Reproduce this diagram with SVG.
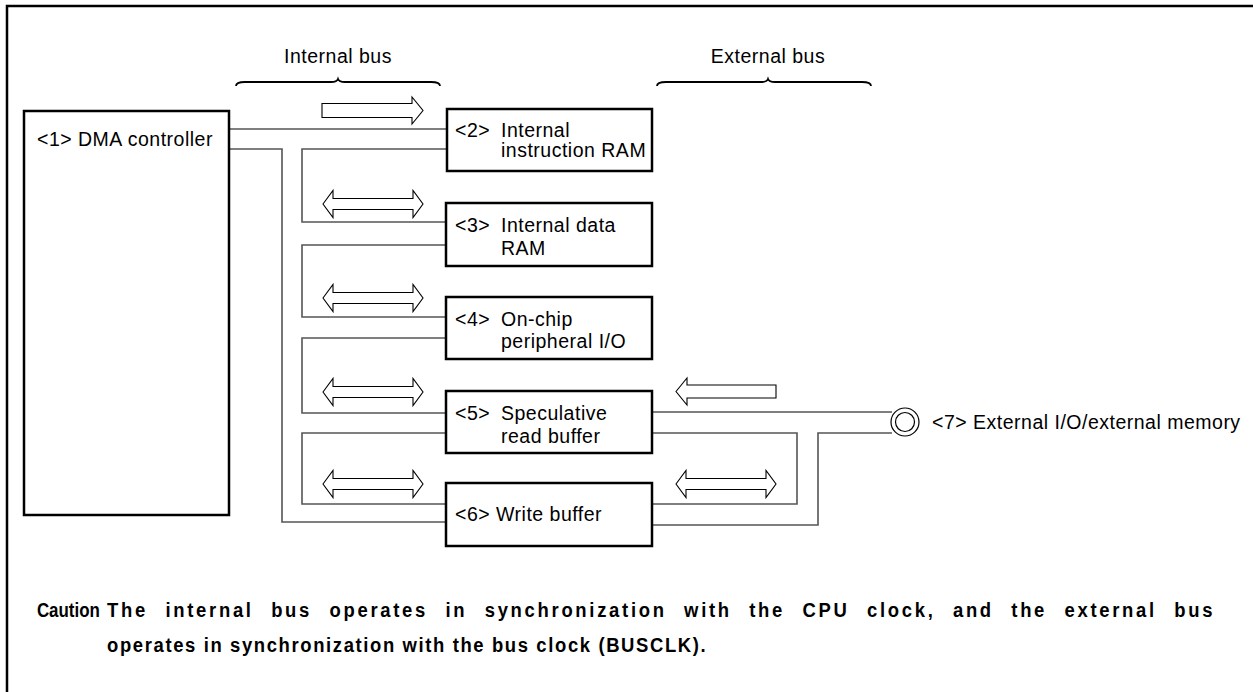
<svg xmlns="http://www.w3.org/2000/svg" width="1253" height="692" viewBox="0 0 1253 692">
<style>
.box{fill:#fff;stroke:#000;stroke-width:2.5}
.t{font-family:"Liberation Sans",Arial,sans-serif;font-size:19.5px;letter-spacing:0.5px;fill:#000}
.c{font-family:"Liberation Sans",Arial,sans-serif;font-size:20.5px;font-weight:bold;letter-spacing:1.8px;fill:#000}
.c0{letter-spacing:0px}
.c1{letter-spacing:3px;word-spacing:10.7px}
.ln{fill:none;stroke:#555;stroke-width:1.6}
.ar{fill:#fff;stroke:#000;stroke-width:1.1;stroke-linejoin:miter}
.br{fill:none;stroke:#000;stroke-width:1.8}
</style>
<defs>
<polygon id="dbl" class="ar" points="0,0 10,-13.5 10,-5.5 90,-5.5 90,-13.5 100,0 90,13.5 90,5.5 10,5.5 10,13.5"/>
</defs>
<rect width="1253" height="692" fill="#fff"/>
<path d="M7,692 V6 H1253" fill="none" stroke="#000" stroke-width="2.5"/>

<g id="labels">
<path class="br" d="M236,86 Q236,82 245,82 H331 Q337,82 338,79 Q339,82 345,82 H431 Q440,82 440,86"/>
<text class="t" x="338" y="63" text-anchor="middle">Internal bus</text>
<path class="br" d="M657,86 Q657,82 666,82 H761 Q767,82 768,79 Q769,82 775,82 H862 Q871,82 871,86"/>
<text class="t" x="768" y="63" text-anchor="middle">External bus</text>
</g>

<g id="connectors">
<path class="ln" d="M230,129 H447"/>
<path class="ln" d="M230,149 H282 V522 H447"/>
<path class="ln" d="M447,149 H302 V222 H447"/>
<path class="ln" d="M447,245 H302 V317 H447"/>
<path class="ln" d="M447,338 H302 V413 H447"/>
<path class="ln" d="M447,433 H302 V504 H447"/>
<path class="ln" d="M652,412 H892"/>
<path class="ln" d="M652,433 H797 V504 H652"/>
<path class="ln" d="M652,525 H818 V433 H892"/>
<polygon class="ar" points="322,103.5 412,103.5 412,97 423,110.5 412,124 412,117.5 322,117.5"/>
<polygon class="ar" points="676,391.5 687,378 687,385 776,385 776,398 687,398 687,405"/>
<use href="#dbl" x="323" y="204"/>
<use href="#dbl" x="323" y="298"/>
<use href="#dbl" x="323" y="392"/>
<use href="#dbl" x="323" y="484"/>
<use href="#dbl" x="676" y="484"/>
</g>

<g id="n1">
<rect class="box" x="24" y="111" width="205" height="404"/>
<text class="t" x="37" y="146">&lt;1&gt; DMA controller</text>
</g>
<g id="n2">
<rect class="box" x="447" y="109" width="205" height="62"/>
<text class="t" x="455" y="137">&lt;2&gt;</text>
<text class="t" x="501" y="137">Internal</text>
<text class="t" x="501" y="157">instruction RAM</text>
</g>
<g id="n3">
<rect class="box" x="446" y="203" width="206" height="63"/>
<text class="t" x="455" y="232">&lt;3&gt;</text>
<text class="t" x="501" y="232">Internal data</text>
<text class="t" x="501" y="255">RAM</text>
</g>
<g id="n4">
<rect class="box" x="446" y="297" width="206" height="62"/>
<text class="t" x="455" y="326">&lt;4&gt;</text>
<text class="t" x="501" y="326">On-chip</text>
<text class="t" x="501" y="348">peripheral I/O</text>
</g>
<g id="n5">
<rect class="box" x="446" y="391" width="206" height="62"/>
<text class="t" x="455" y="420">&lt;5&gt;</text>
<text class="t" x="501" y="420">Speculative</text>
<text class="t" x="501" y="443">read buffer</text>
</g>
<g id="n6">
<rect class="box" x="446" y="483" width="206" height="63"/>
<text class="t" x="455" y="521">&lt;6&gt; Write buffer</text>
</g>
<g id="n7">
<circle cx="905" cy="422" r="14" fill="#fff" stroke="#000" stroke-width="1.2"/>
<circle cx="905" cy="422" r="9.5" fill="none" stroke="#000" stroke-width="1.2"/>
<text class="t" x="932" y="429">&lt;7&gt; External I/O/external memory</text>
</g>

<g id="caution" transform="scale(0.9,1)">
<text class="c c0" x="41" y="617" textLength="70" lengthAdjust="spacingAndGlyphs">Caution</text>
<text class="c c1" x="119" y="617">The internal bus operates in synchronization with the CPU clock, and the external bus</text>
<text class="c" x="119" y="652">operates in synchronization with the bus clock (BUSCLK).</text>
</g>
</svg>
